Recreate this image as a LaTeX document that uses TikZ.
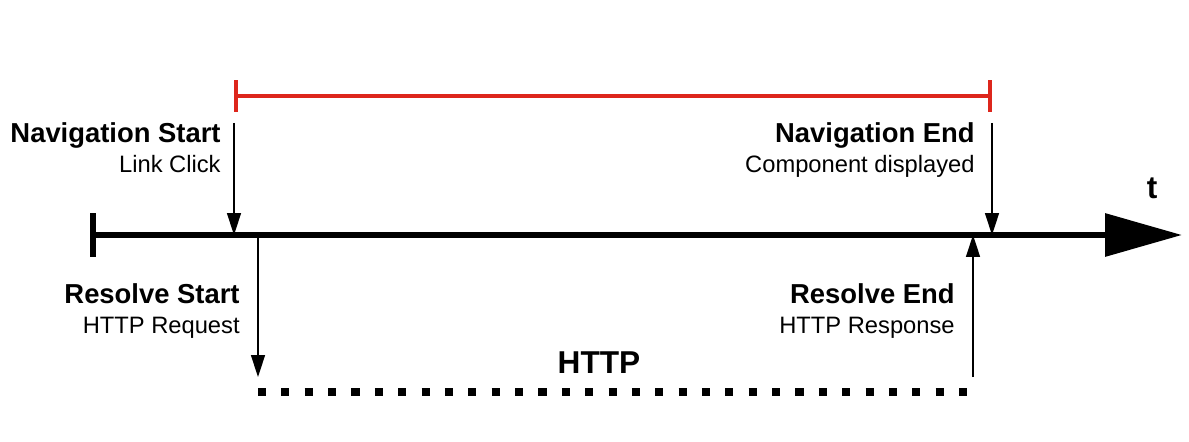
\documentclass[tikz,border=0pt]{standalone}
\usepackage{fontspec}
\setmainfont{Liberation Sans}
\usetikzlibrary{arrows.meta,positioning}
\definecolor{TLred}{RGB}{221,38,28}
\definecolor{TLink}{RGB}{0,0,0}
\tikzset{
  axis/.style={line width=3.6pt,draw=TLink,{Bar[width=8.8mm]}-{Triangle[length=15.4mm,width=8.4mm]}},
  span/.style={line width=2.2pt,draw=TLred,{Bar[width=6.4mm]}-{Bar[width=6.4mm]}},
  ev/.style={line width=0.85pt,draw=TLink,-{Triangle[length=4.4mm,width=2.8mm]}},
  wire/.style={line width=4.6pt,draw=TLink,dash pattern=on 4.6pt off 8.7pt},
  title/.style={font=\fontsize{15.6}{18}\selectfont\bfseries,text=TLink,inner sep=0pt,anchor=base east},
  sub/.style={font=\fontsize{13.5}{16}\selectfont,text=TLink,inner sep=0pt,anchor=base east},
  big/.style={font=\fontsize{18}{22}\selectfont\bfseries,text=TLink,inner sep=0pt,anchor=base}
}
\begin{document}
\begin{tikzpicture}[x=0.02cm,y=-0.02cm]
  \useasboundingbox (0,0) rectangle (1189,442);
  % time axis
  \coordinate (axS) at (90,235);
  \coordinate (axE) at (1182,235);
  \draw[axis] (axS) -- (axE);
  \node[big] (tlbl) at (1152,198) {t};

  % navigation
  \coordinate (navS) at (234,123);
  \coordinate (navE) at (992,123);
  \coordinate (spanS) at (234,96);
  \coordinate (spanE) at (992,96);
  \draw[span] (spanS) -- (spanE);
  \draw[ev] (navS) -- (navS |- axS);
  \draw[ev] (navE) -- (navE |- axS);
  \node[title] (navStitle) at (221,143) {Navigation Start};
  \node[sub] (navSsub) at (221,173) {Link Click};
  \node[title] (navEtitle) at (975,143) {Navigation End};
  \node[sub] (navEsub) at (975,173) {Component displayed};

  % resolve
  \coordinate (resS) at (258,392);
  \coordinate (resE) at (973,392);
  \coordinate (resSt) at (258,377);
  \coordinate (resEt) at (973,377);
  \draw[ev] (resS |- axS) -- (resSt);
  \draw[ev] (resEt) -- (resE |- axS);
  \draw[wire] (resS) -- (resE);
  \node[title] (resStitle) at (240,303) {Resolve Start};
  \node[sub] (resSsub) at (240,333) {HTTP Request};
  \node[title] (resEtitle) at (955,303) {Resolve End};
  \node[sub] (resEsub) at (955,333) {HTTP Response};
  \node[big] (http) at (599,373) {HTTP};
\end{tikzpicture}
\end{document}
